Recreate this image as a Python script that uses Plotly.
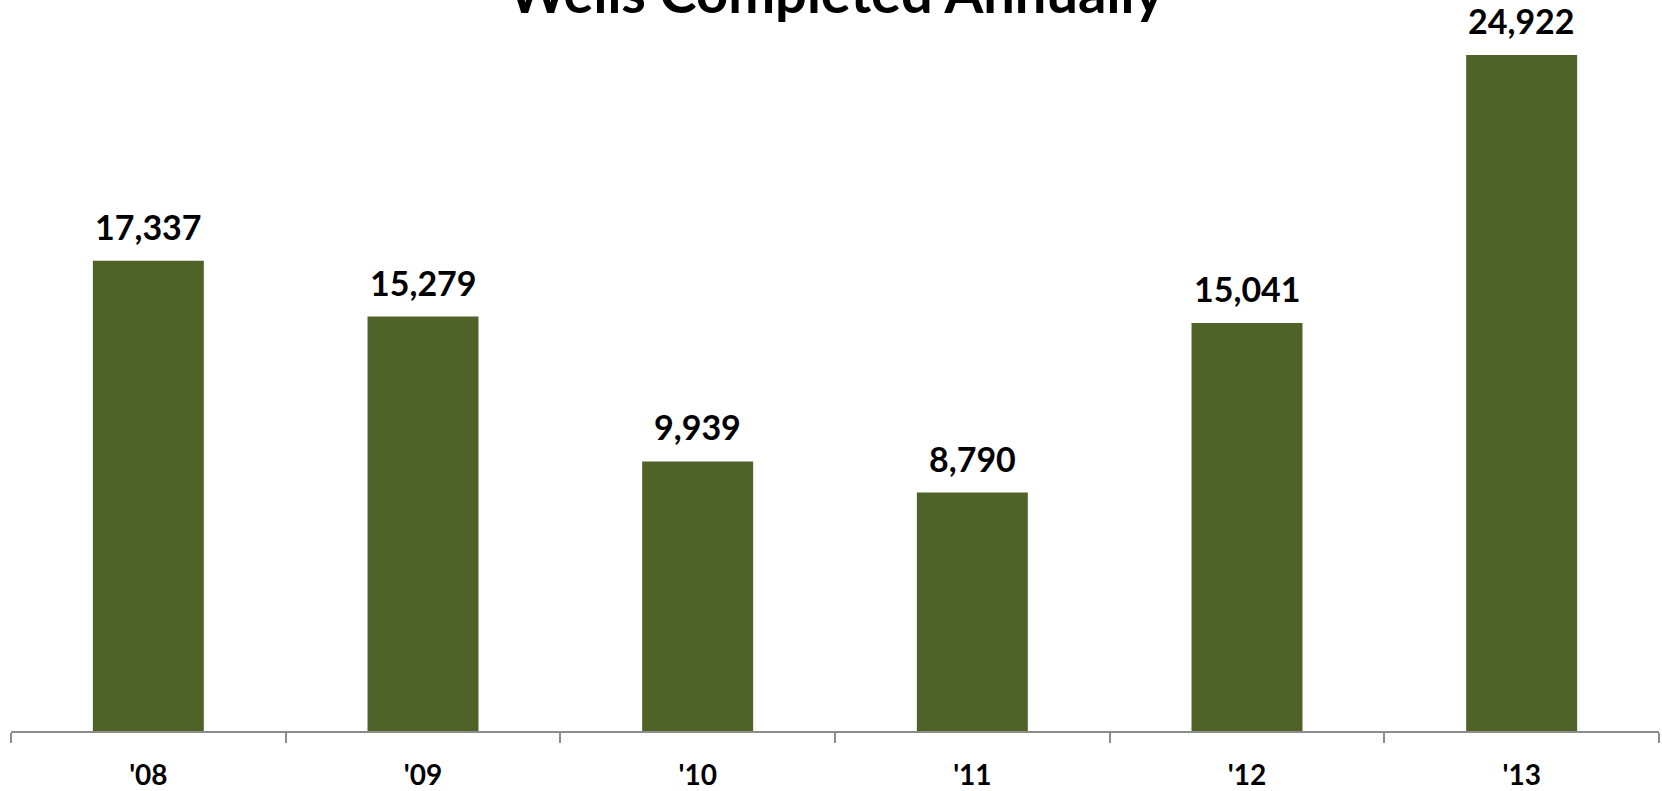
import plotly.graph_objects as go

years = ["'08", "'09", "'10", "'11", "'12", "'13"]
wells = [17337, 15279, 9939, 8790, 15041, 24922]
labels = ["17,337", "15,279", "9,939", "8,790", "15,041", "24,922"]

BAR = "#4F6228"
FONT = "Lato"

fig = go.Figure()
fig.add_trace(go.Bar(x=years, y=wells, marker=dict(color=BAR, line=dict(width=0)),
                     hoverinfo="skip"))

for yr, v, t in zip(years, wells, labels):
    fig.add_annotation(x=yr, y=v, text=t, showarrow=False, yanchor="bottom",
                       yshift=12, font=dict(family=FONT, size=34, color="black", weight="bold"))

fig.update_layout(
    width=1662, height=791,
    margin=dict(l=11, r=3, t=0, b=58),
    paper_bgcolor="white", plot_bgcolor="white",
    bargap=0.596,
    showlegend=False,
    title=dict(text="<b>Wells Completed Annually</b>", x=836/1662, xanchor="center",
               y=1 - 13/791, yref="container", yanchor="bottom",
               font=dict(family=FONT, size=56, color="black")),
    xaxis=dict(showline=True, linecolor="#8C8C8C", linewidth=1.5,
               ticks="outside", ticklen=10, tickcolor="#8C8C8C", tickwidth=1.5,
               tickson="boundaries", showgrid=False,
               ticklabelstandoff=19,
               tickfont=dict(family=FONT, size=28, color="black", weight="bold")),
    yaxis=dict(range=[0, 26950], visible=False, showgrid=False, zeroline=False),
)

fig.write_html("out.html")
